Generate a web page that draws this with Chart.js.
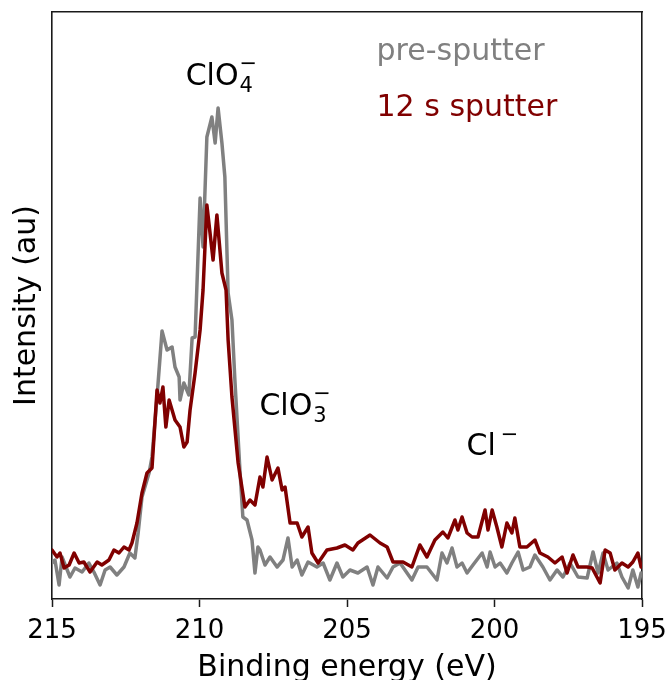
<!DOCTYPE html>
<html>
<head>
<meta charset="utf-8">
<title>Cl 2p XPS</title>
<script src="https://cdn.jsdelivr.net/npm/chart.js@4.4.0/dist/chart.umd.min.js"></script>
<style>
  html, body { margin: 0; padding: 0; background: #fff; }
  #wrap { width: 668px; height: 680px; }
</style>
</head>
<body>
<div id="wrap"><canvas id="xpsChart" width="668" height="680"></canvas></div>
<script>
// Cl 2p spectra (intensity in arbitrary units)
const preEnergy = [
  215.00, 214.90, 214.76, 214.66, 214.39, 214.22, 213.98, 213.75, 213.58, 213.37,
  213.20, 213.03, 212.80, 212.56, 212.36, 212.19, 212.08, 211.95, 211.71, 211.61,
  211.44, 211.27, 211.10, 210.93, 210.83, 210.69, 210.66, 210.53, 210.36, 210.25,
  210.15, 209.98, 209.88, 209.75, 209.58, 209.47, 209.37, 209.24, 209.14, 209.03,
  208.90, 208.80, 208.63, 208.53, 208.39, 208.22, 208.12, 208.02, 207.95, 207.78,
  207.61, 207.37, 207.17, 207.00, 206.86, 206.69, 206.53, 206.32, 206.02, 205.81,
  205.58, 205.34, 205.14, 204.90, 204.63, 204.32, 204.12, 203.95, 203.64, 203.44,
  203.20, 202.80, 202.59, 202.29, 201.95, 201.78, 201.61, 201.44, 201.27, 201.10,
  200.93, 200.73, 200.42, 200.25, 200.15, 199.98, 199.81, 199.58, 199.41, 199.20,
  199.03, 198.80, 198.63, 198.36, 198.12, 197.88, 197.68, 197.44, 197.17, 196.86,
  196.66, 196.49, 196.32, 196.15, 195.85, 195.68, 195.47, 195.31, 195.14, 195.03
];
const preIntensity = [
  0.35, 0.38, 0.13, 0.41, 0.21, 0.30, 0.26, 0.35, 0.26, 0.13,
  0.28, 0.31, 0.23, 0.31, 0.45, 0.40, 0.65, 1.01, 1.25, 1.41,
  2.01, 2.67, 2.48, 2.51, 2.31, 2.21, 1.98, 2.15, 2.03, 2.60,
  2.61, 4.00, 3.51, 4.61, 4.81, 4.55, 4.90, 4.55, 4.21, 3.05,
  2.78, 2.18, 1.28, 0.81, 0.78, 0.58, 0.25, 0.51, 0.48, 0.33,
  0.41, 0.31, 0.38, 0.60, 0.31, 0.38, 0.23, 0.36, 0.31, 0.35,
  0.18, 0.35, 0.21, 0.28, 0.25, 0.31, 0.13, 0.31, 0.20, 0.31,
  0.35, 0.18, 0.31, 0.31, 0.18, 0.45, 0.35, 0.50, 0.31, 0.35,
  0.25, 0.33, 0.45, 0.31, 0.46, 0.31, 0.35, 0.25, 0.35, 0.46,
  0.28, 0.31, 0.43, 0.31, 0.18, 0.28, 0.21, 0.35, 0.21, 0.20,
  0.46, 0.25, 0.45, 0.28, 0.35, 0.21, 0.10, 0.28, 0.11, 0.25
];
const sputEnergy = [
  215.00, 214.83, 214.73, 214.59, 214.42, 214.25, 214.08, 213.92, 213.71, 213.47,
  213.31, 213.07, 212.90, 212.73, 212.56, 212.39, 212.29, 212.12, 211.95, 211.78,
  211.61, 211.44, 211.34, 211.24, 211.14, 211.03, 210.83, 210.66, 210.53, 210.42,
  210.32, 210.15, 209.98, 209.88, 209.75, 209.54, 209.41, 209.24, 209.10, 209.03,
  208.90, 208.69, 208.46, 208.29, 208.12, 207.95, 207.85, 207.71, 207.54, 207.34,
  207.20, 207.10, 206.93, 206.69, 206.53, 206.32, 206.19, 205.98, 205.68, 205.34,
  205.07, 204.80, 204.63, 204.22, 203.88, 203.64, 203.44, 203.10, 202.80, 202.53,
  202.29, 202.02, 201.75, 201.58, 201.34, 201.24, 201.10, 200.93, 200.76, 200.56,
  200.32, 200.22, 200.08, 199.92, 199.75, 199.58, 199.41, 199.31, 199.14, 198.90,
  198.63, 198.46, 198.19, 197.95, 197.71, 197.54, 197.34, 197.17, 196.86, 196.69,
  196.42, 196.25, 196.08, 195.92, 195.68, 195.47, 195.31, 195.14, 195.03
];
const sputIntensity = [
  0.48, 0.41, 0.45, 0.30, 0.33, 0.45, 0.35, 0.36, 0.26, 0.36,
  0.33, 0.38, 0.48, 0.45, 0.51, 0.48, 0.55, 0.75, 1.05, 1.25,
  1.30, 2.08, 1.95, 2.11, 1.71, 1.98, 1.78, 1.71, 1.51, 1.56,
  1.88, 2.25, 2.68, 3.08, 3.93, 3.38, 3.83, 3.25, 3.08, 2.58,
  2.01, 1.35, 0.91, 0.98, 0.93, 1.21, 1.11, 1.41, 1.18, 1.30,
  1.08, 1.11, 0.75, 0.75, 0.61, 0.71, 0.45, 0.35, 0.48, 0.50,
  0.53, 0.48, 0.55, 0.63, 0.55, 0.51, 0.36, 0.36, 0.31, 0.53,
  0.41, 0.58, 0.66, 0.60, 0.78, 0.68, 0.81, 0.65, 0.61, 0.61,
  0.88, 0.68, 0.88, 0.71, 0.51, 0.75, 0.65, 0.80, 0.51, 0.51,
  0.58, 0.45, 0.41, 0.35, 0.41, 0.25, 0.43, 0.31, 0.31, 0.30,
  0.15, 0.48, 0.45, 0.28, 0.35, 0.31, 0.36, 0.45, 0.31
];

const xTicks = [215, 210, 205, 200, 195];
const seriesNames = ['pre-sputter', '12 s sputter'];
const seriesColors = ['#808080', '#800000'];

// peak labels: name, subscript, superscript and where they sit in data units
const peakNames = ['ClO', 'ClO', 'Cl'];
const peakSub = ['4', '3', ''];
const peakSup = ['\u2212', '\u2212', '\u2212'];
const peakEnergy = [210.47, 207.97, 200.95];
const peakHeight = [5.13, 1.83, 1.43];

const toPoints = (xs, ys) => xs.map((e, i) => ({ x: e, y: ys[i] }));

const FONT = '"DejaVu Sans", "Liberation Sans", sans-serif';
const AXIS = '#1a1a1a';

// draws the peak labels and the text-only legend
const textPlugin = {
  id: 'textLabels',
  afterDatasetsDraw(chart) {
    const { ctx, chartArea, scales } = chart;
    const x = scales.x;
    const y = scales.y;
    ctx.save();
    ctx.textAlign = 'left';
    ctx.textBaseline = 'alphabetic';

    peakNames.forEach((name, i) => {
      const px = x.getPixelForValue(peakEnergy[i]);
      const py = y.getPixelForValue(peakHeight[i]);
      ctx.fillStyle = '#000';
      ctx.font = '30px ' + FONT;
      ctx.fillText(name, px, py);
      let end = px + ctx.measureText(name).width;
      ctx.font = '21px ' + FONT;
      if (peakSub[i]) {
        ctx.fillText(peakSub[i], end + 1, py + 7);
        ctx.fillText(peakSup[i], end + 1, py - 15);
      } else {
        ctx.fillText(peakSup[i], end + 5, py - 14);
      }
    });

    // legend (text only, coloured like the lines)
    const w = chartArea.right - chartArea.left;
    const h = chartArea.bottom - chartArea.top;
    ctx.font = '30px ' + FONT;
    ctx.fillStyle = seriesColors[0];
    ctx.fillText(seriesNames[0], chartArea.left + 0.55 * w, chartArea.top + 0.082 * h);
    ctx.fillStyle = seriesColors[1];
    ctx.fillText(seriesNames[1], chartArea.left + 0.55 * w, chartArea.top + 0.177 * h);
    ctx.restore();
  }
};

const lineStyle = {
  borderWidth: 3.5,
  borderJoinStyle: 'round',
  borderCapStyle: 'round',
  pointRadius: 0,
  tension: 0,
  fill: false
};

const ctx = document.getElementById('xpsChart');
window.xpsChart = new Chart(ctx, {
  type: 'line',
  data: {
    datasets: [
      Object.assign({
        label: seriesNames[1],
        data: toPoints(sputEnergy, sputIntensity),
        borderColor: seriesColors[1],
        order: 0
      }, lineStyle),
      Object.assign({
        label: seriesNames[0],
        data: toPoints(preEnergy, preIntensity),
        borderColor: seriesColors[0],
        order: 1
      }, lineStyle)
    ]
  },
  options: {
    responsive: false,
    animation: false,
    devicePixelRatio: 1,
    layout: { padding: 0 },
    plugins: {
      legend: { display: false },
      tooltip: { enabled: false }
    },
    scales: {
      x: {
        type: 'linear',
        position: 'bottom',
        reverse: true,
        min: 195,
        max: 215,
        afterBuildTicks: (s) => { s.ticks = xTicks.map(v => ({ value: v })); },
        afterFit: (s) => {
          s.height = 81;
          // end labels fit inside the side axes, no extra room needed
          s.paddingLeft = 0;
          s.paddingRight = 0;
        },
        grid: {
          display: true,
          drawOnChartArea: false,
          drawTicks: true,
          tickLength: 8,
          tickWidth: 1.5,
          tickColor: AXIS
        },
        border: { display: true, color: AXIS, width: 1.6 },
        ticks: {
          color: '#000',
          padding: 9,
          maxRotation: 0,
          font: { family: FONT, size: 26 }
        },
        title: {
          display: true,
          text: 'Binding energy (eV)',
          color: '#000',
          padding: { top: 0, bottom: -3 },
          font: { family: FONT, size: 30, lineHeight: 1 }
        }
      },
      xTop: {
        type: 'linear',
        position: 'top',
        min: 195,
        max: 215,
        afterFit: (s) => { s.height = 12; },
        grid: { display: false },
        ticks: { display: false },
        border: { display: true, color: AXIS, width: 1.6 }
      },
      y: {
        type: 'linear',
        position: 'left',
        min: -0.01,
        max: 5.86,
        afterFit: (s) => { s.width = 52; },
        grid: { display: false },
        ticks: { display: false },
        border: { display: true, color: AXIS, width: 1.6 },
        title: {
          display: true,
          text: 'Intensity (au)',
          color: '#000',
          padding: { top: 12, bottom: 0 },
          font: { family: FONT, size: 30, lineHeight: 1 }
        }
      },
      yRight: {
        type: 'linear',
        position: 'right',
        min: 0,
        max: 1,
        afterFit: (s) => { s.width = 26; },
        grid: { display: false },
        ticks: { display: false },
        border: { display: true, color: AXIS, width: 1.6 }
      }
    }
  },
  plugins: [textPlugin]
});
</script>
</body>
</html>
